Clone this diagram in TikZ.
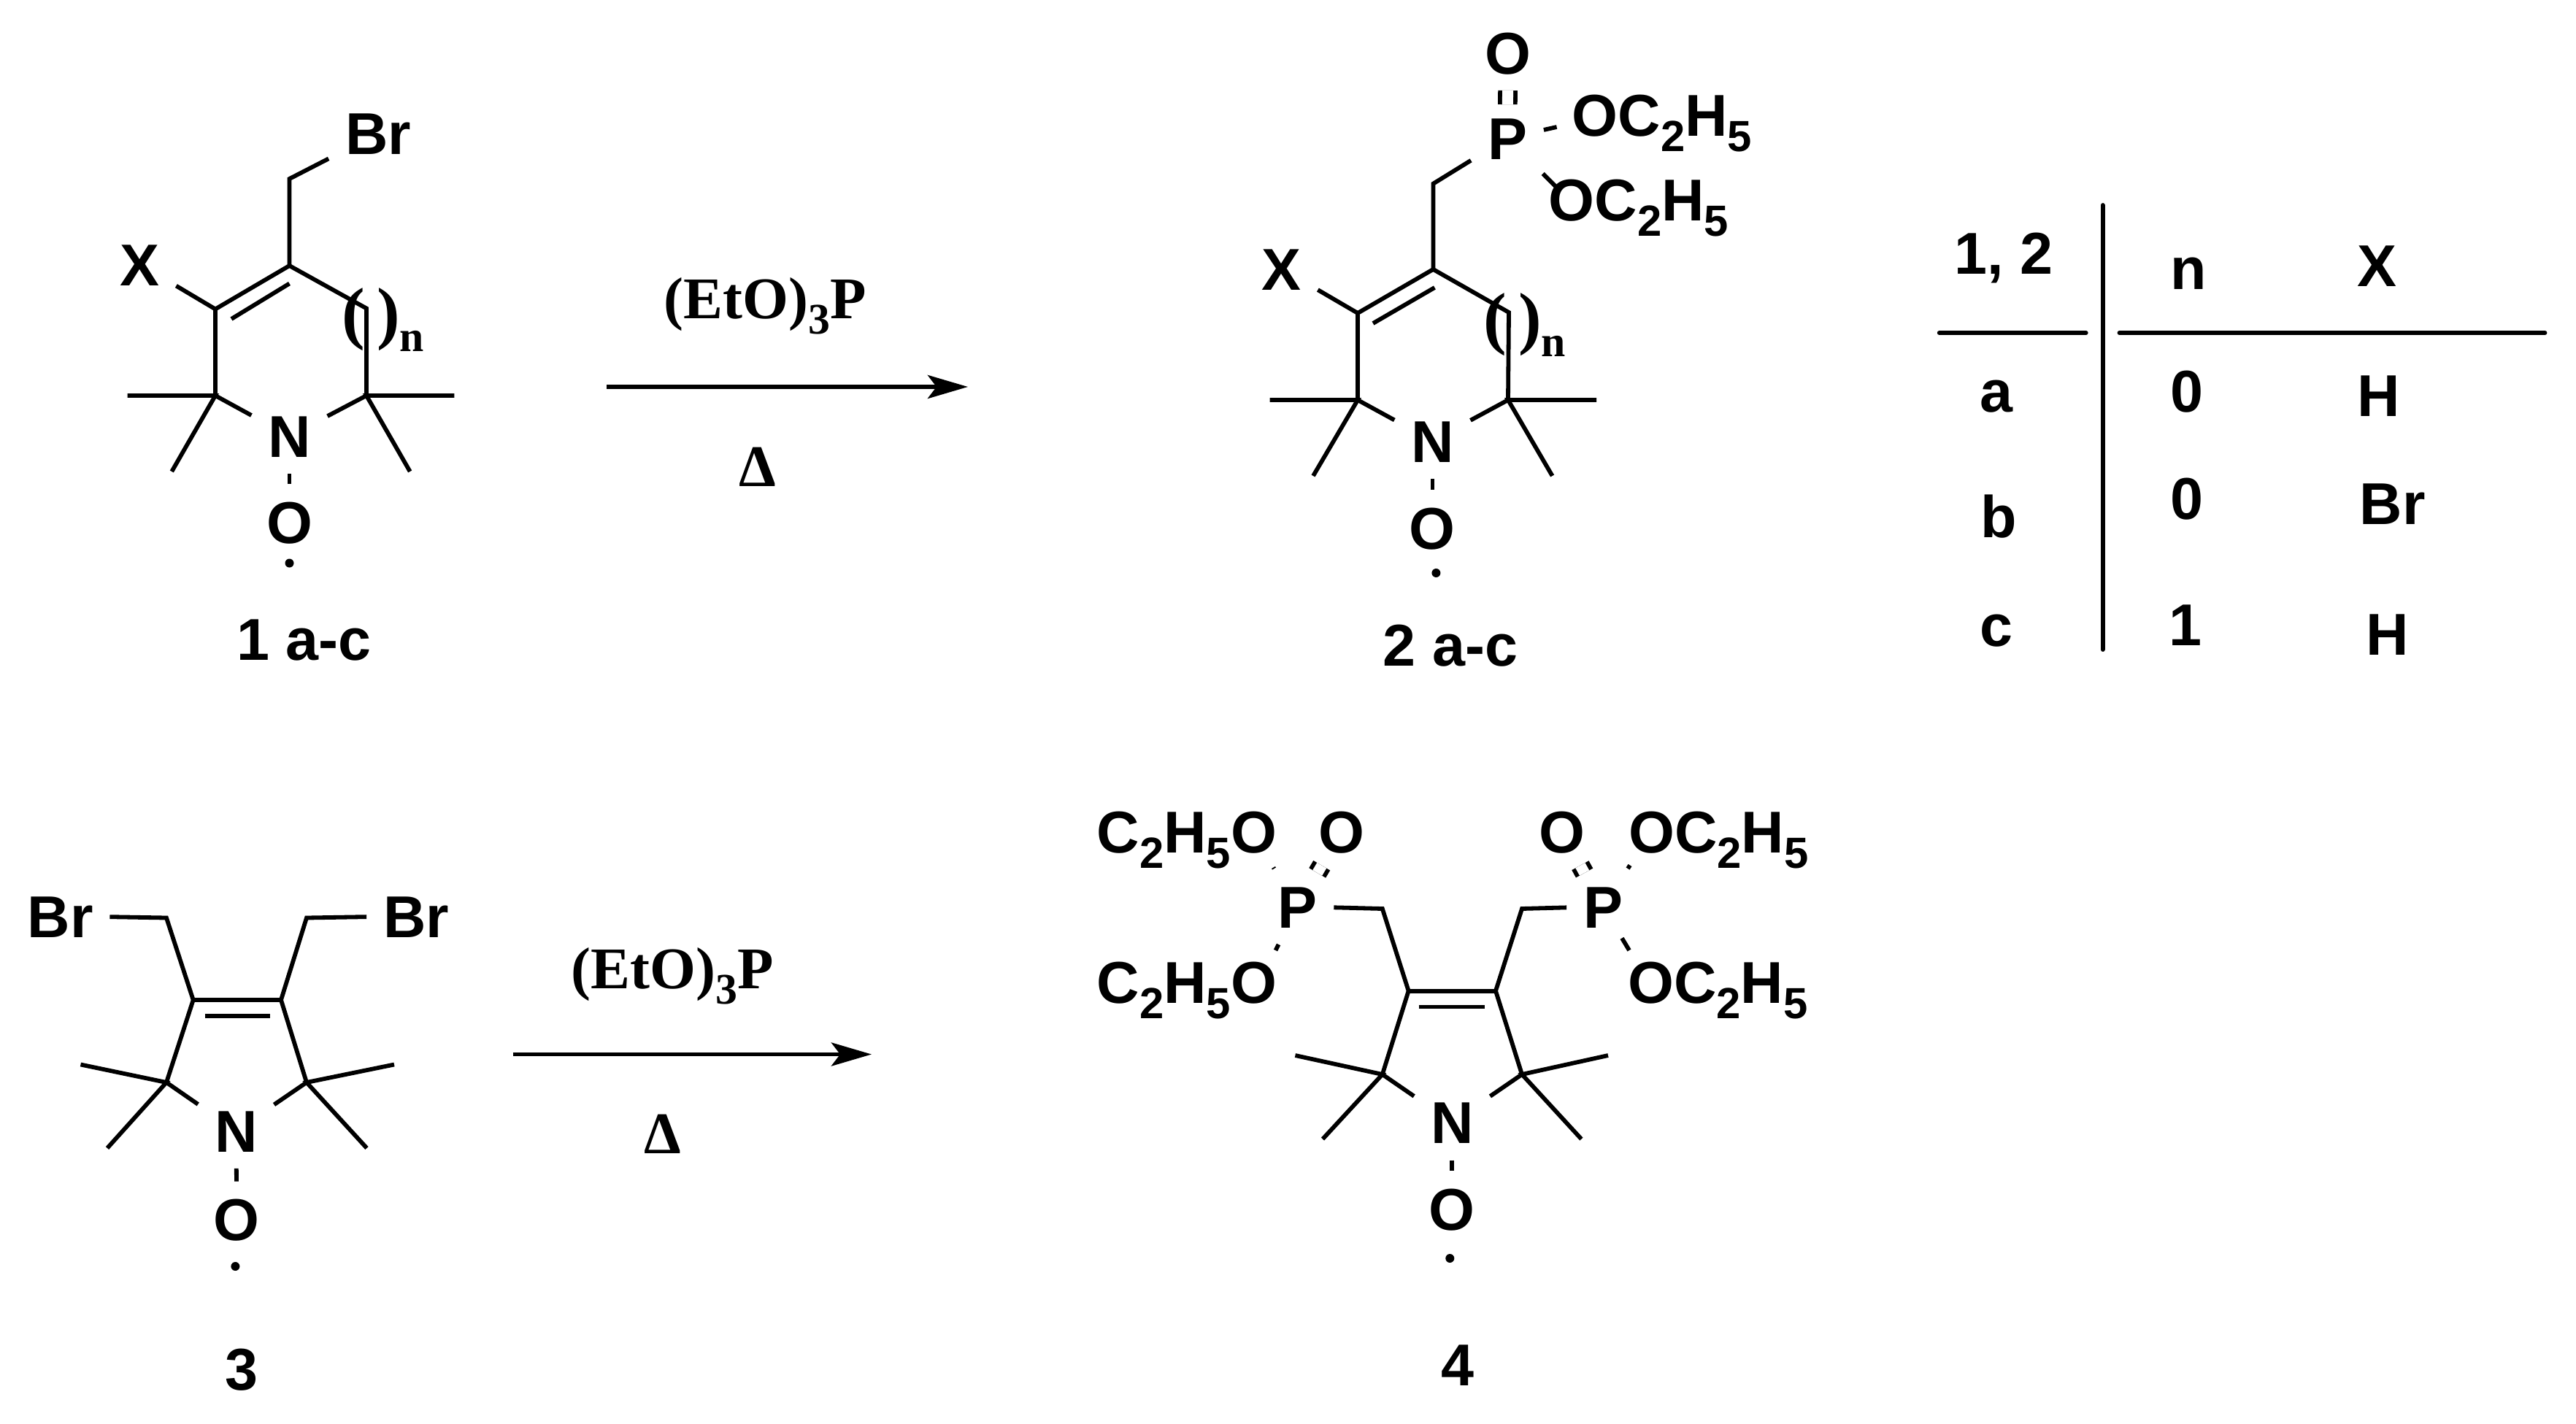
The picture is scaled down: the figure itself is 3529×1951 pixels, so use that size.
\documentclass[tikz,border=0pt]{standalone}
\usepackage{fontspec}
\setmainfont{Liberation Sans}
\newfontfamily\serifchem{Liberation Serif}
\usetikzlibrary{arrows.meta}
\newcommand{\lowidx}[1]{\raisebox{-6pt}{\fontsize{17}{17}\selectfont #1}}

\begin{document}
\begin{tikzpicture}[x=.01cm,y=-.01cm,line width=1.65pt,
atom/.style = {inner sep=.2cm, text height=.58cm, text depth=0pt, font=\fontsize{23}{23}\selectfont\bfseries},
rgt/.style = {atom, font=\fontsize{23}{23}\selectfont\serifchem\bfseries},
paren/.style = {atom, font=\fontsize{27}{27}\selectfont\serifchem\bfseries},
cell/.style = {anchor=base, inner sep=0pt, font=\fontsize{23}{23}\selectfont\bfseries},
radical/.style = {circle, fill, inner sep=0pt, minimum size=.12cm},
dbl/.style = {double, double distance=.15cm, line width=1.65pt},
rxn/.style = {-{Stealth[length=.55cm,width=.32cm,inset=.12cm]}},
rule/.style = {line cap=round}]
\path[use as bounding box] (0,0) rectangle (3529,1951);

\coordinate (ch1) at (396.5,245);
\coordinate (c4a) at (396.5,364);
\coordinate (c3a) at (295,423.5);
\coordinate (c5a) at (502,422.5);
\coordinate (c2a) at (295,542);
\coordinate (c6a) at (502,542);
\coordinate (m1a) at (174.6,542);
\coordinate (m2a) at (235.3,646);
\coordinate (m3a) at (622.4,542);
\coordinate (m4a) at (561.7,646);
\coordinate (in1a) at (317,437);
\coordinate (in2a) at (396.5,388.5);
\node[atom] (bra) at (518,182.5) {Br};
\node[atom] (xa) at (191.5,362) {X};
\node[atom] (na) at (396.5,597.5) {N};
\node[atom] (oa) at (396.5,715) {O};
\node[radical] (da) at (396.5,771.5) {};
\node[paren] (pna) at (525,431) {(\,)\lowidx{n}};
\node[atom] (la) at (416.5,875) {1 a-c};
\draw (bra) -- (ch1) -- (c4a) -- (c3a) -- (c2a) -- (na);
\draw (c4a) -- (c5a) -- (c6a) -- (na);
\draw (in1a) -- (in2a);
\draw (xa) -- (c3a);
\draw (m1a) -- (c2a) -- (m2a);
\draw (m3a) -- (c6a) -- (m4a);
\draw (na) -- (oa);

\coordinate (a1s) at (831,530);
\coordinate (a1e) at (1326,530);
\draw[rxn] (a1s) -- (a1e);
\node[rgt] (ra) at (1048,407.5) {(EtO)\lowidx{3}P};
\node[rgt] (ha) at (1038,637) {Δ};

\coordinate (ch2) at (1963.4,251.7);
\coordinate (c4b) at (1963.4,369);
\coordinate (c3b) at (1860,429);
\coordinate (c5b) at (2067,428);
\coordinate (c2b) at (1860,548);
\coordinate (c6b) at (2066,548);
\coordinate (m1b) at (1739.5,548);
\coordinate (m2b) at (1799,652);
\coordinate (m3b) at (2187,548);
\coordinate (m4b) at (2126.6,652);
\coordinate (in1b) at (1881,443);
\coordinate (in2b) at (1965.4,394);
\coordinate (e1b) at (2132.6,174);
\coordinate (e2b) at (2113.7,238);
\node[atom] (pb) at (2065,189) {P};
\node[atom] (odb) at (2066,72) {O};
\node[atom] (et1b) at (2277,157) {OC\lowidx{2}H\lowidx{5}};
\node[atom] (et2b) at (2245,273) {OC\lowidx{2}H\lowidx{5}};
\node[atom] (xb) at (1755.5,368) {X};
\node[atom] (nb) at (1962.4,604) {N};
\node[atom] (ob) at (1962.4,723) {O};
\node[radical] (db) at (1967.4,785) {};
\node[paren] (pnb) at (2089,438) {(\,)\lowidx{n}};
\node[atom] (lb) at (1987,883) {2 a-c};
\draw (pb) -- (ch2) -- (c4b) -- (c3b) -- (c2b) -- (nb);
\draw (c4b) -- (c5b) -- (c6b) -- (nb);
\draw (in1b) -- (in2b);
\draw (xb) -- (c3b);
\draw (m1b) -- (c2b) -- (m2b);
\draw (m3b) -- (c6b) -- (m4b);
\draw (nb) -- (ob);
\draw[dbl,shorten <=-.06cm] (pb) -- (odb);
\draw (pb) -- (e1b);
\draw[shorten <=-.28cm] (pb) -- (e2b);

\coordinate (ch3l) at (228,1257.5);
\coordinate (ch3r) at (420,1257.5);
\coordinate (c3c) at (264.7,1370);
\coordinate (c4c) at (385,1370);
\coordinate (c2c) at (228,1483);
\coordinate (c5c) at (420,1483);
\coordinate (m1c) at (110.5,1458.5);
\coordinate (m2c) at (147,1573);
\coordinate (m3c) at (540,1458.5);
\coordinate (m4c) at (502.5,1573);
\coordinate (in1c) at (280.6,1392);
\coordinate (in2c) at (370,1392);
\node[atom] (brl) at (82.6,1255) {Br};
\node[atom] (brr) at (570,1255) {Br};
\node[atom] (nc) at (323.4,1549) {N};
\node[atom] (oc) at (324.4,1670.5) {O};
\node[radical] (dc) at (322.4,1735) {};
\node[atom] (lc) at (331.3,1875) {3};
\draw (brl) -- (ch3l) -- (c3c) -- (c2c) -- (nc);
\draw (brr) -- (ch3r) -- (c4c) -- (c5c) -- (nc);
\draw (c3c) -- (c4c);
\draw (in1c) -- (in2c);
\draw (m1c) -- (c2c) -- (m2c);
\draw (m3c) -- (c5c) -- (m4c);
\draw (nc) -- (oc);

\coordinate (a2s) at (702.5,1444.5);
\coordinate (a2e) at (1194,1444.5);
\draw[rxn] (a2s) -- (a2e);
\node[rgt] (rc) at (921.4,1325) {(EtO)\lowidx{3}P};
\node[rgt] (hc) at (907.4,1551) {Δ};

\coordinate (ch4l) at (1893.8,1245);
\coordinate (ch4r) at (2085,1245);
\coordinate (c3d) at (1929.6,1357.6);
\coordinate (c4d) at (2049,1357.6);
\coordinate (c2d) at (1893.8,1472);
\coordinate (c5d) at (2085,1472);
\coordinate (m1d) at (1774.4,1446);
\coordinate (m2d) at (1812,1560.6);
\coordinate (m3d) at (2203,1446);
\coordinate (m4d) at (2166.4,1560.6);
\coordinate (in1d) at (1943.5,1379.5);
\coordinate (in2d) at (2034,1379.5);
\coordinate (e1d) at (1744.5,1188.5);
\coordinate (e2d) at (1747.5,1302);
\coordinate (e3d) at (2233,1185.5);
\coordinate (e4d) at (2232,1302);
\node[atom] (pl) at (1777.4,1242) {P};
\node[atom] (pr) at (2196,1242) {P};
\node[atom] (odl) at (1838,1139.7) {O};
\node[atom] (odr) at (2139.5,1139.7) {O};
\node[atom] (et1d) at (1626,1139.7) {C\lowidx{2}H\lowidx{5}O};
\node[atom] (et2d) at (1626,1345.7) {C\lowidx{2}H\lowidx{5}O};
\node[atom] (et3d) at (2354.5,1139.7) {OC\lowidx{2}H\lowidx{5}};
\node[atom] (et4d) at (2353.5,1345.7) {OC\lowidx{2}H\lowidx{5}};
\node[atom] (nd) at (1989.3,1537.7) {N};
\node[atom] (od) at (1989.3,1656) {O};
\node[radical] (dd) at (1986.3,1724) {};
\node[atom] (ld) at (1997,1869) {4};
\draw (pl) -- (ch4l) -- (c3d) -- (c2d) -- (nd);
\draw (pr) -- (ch4r) -- (c4d) -- (c5d) -- (nd);
\draw (c3d) -- (c4d);
\draw (in1d) -- (in2d);
\draw (m1d) -- (c2d) -- (m2d);
\draw (m3d) -- (c5d) -- (m4d);
\draw (nd) -- (od);
\draw[dbl,shorten <=-.05cm,shorten >=-.05cm] (pl) -- (odl);
\draw[dbl,shorten <=-.05cm,shorten >=-.05cm] (pr) -- (odr);
\draw (pl) -- (e1d);
\draw (pl) -- (e2d);
\draw (pr) -- (e3d);
\draw[shorten <=-.1cm] (pr) -- (e4d);

\coordinate (v1) at (2880.6,281);
\coordinate (v2) at (2880.6,890);
\coordinate (h1) at (2656.7,456);
\coordinate (h2) at (2857.7,456);
\coordinate (h3) at (2903.5,456);
\coordinate (h4) at (3486.5,456);
\draw[rule] (v1) -- (v2);
\draw[rule] (h1) -- (h2);
\draw[rule] (h3) -- (h4);
\node[cell] (t0) at (2745.3,375) {1, 2};
\node[cell] (tn) at (2998,396) {n};
\node[cell] (tx) at (3256,392) {X};
\node[cell] (ta) at (2735,564.5) {a};
\node[cell] (tna) at (2996,564.5) {0};
\node[cell] (txa) at (3258.7,570.4) {H};
\node[cell] (tb) at (2738,736.5) {b};
\node[cell] (tnb) at (2996,711.7) {0};
\node[cell] (txb) at (3277.6,718.6) {Br};
\node[cell] (tc) at (2735,885) {c};
\node[cell] (tnc) at (2994,884) {1};
\node[cell] (txc) at (3270.6,897.7) {H};
\end{tikzpicture}
\end{document}
